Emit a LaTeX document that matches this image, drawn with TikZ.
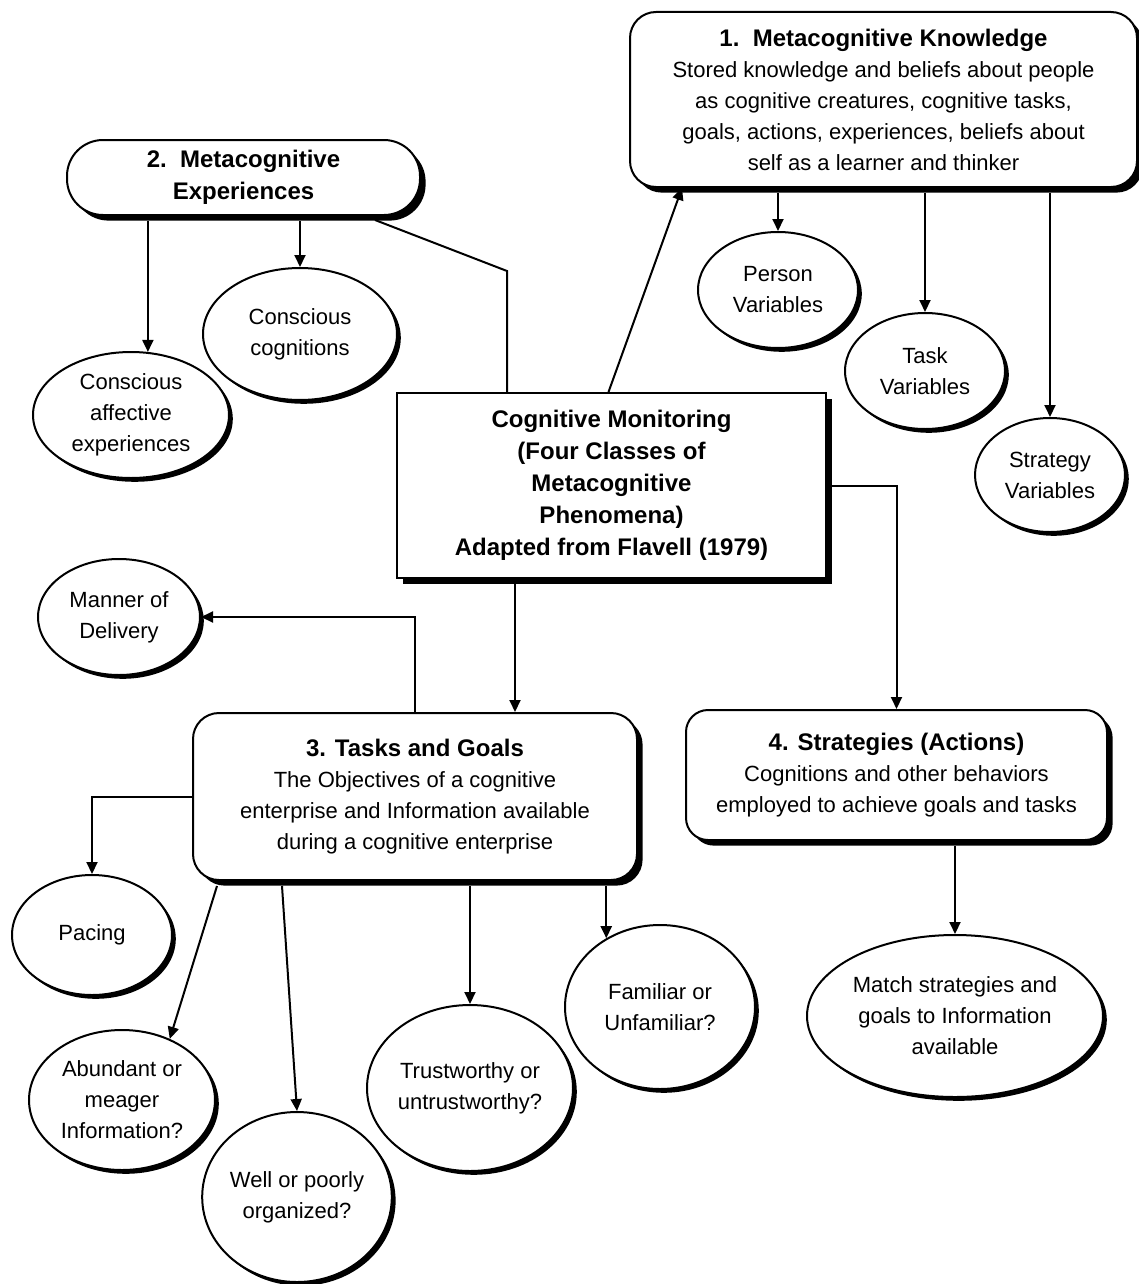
\documentclass[tikz,border=0pt]{standalone}
\usepackage{fontspec}
\setmainfont{Liberation Sans}
\usetikzlibrary{shapes.geometric,shadows,arrows.meta,calc}
\begin{document}
\begin{tikzpicture}[x=0.5pt,y=-0.5pt,
  every node/.style={font=\fontsize{11}{15.5}\selectfont, align=center, inner sep=0pt},
  ttl/.style={font=\fontsize{12}{16}\selectfont\bfseries},
  boxsh/.style={drop shadow={shadow xshift=2.8pt, shadow yshift=-2.8pt, fill=black, opacity=1}},
  sqbox/.style={draw, line width=1pt, fill=white, boxsh},
  rbox/.style={draw, line width=1pt, fill=white, rounded corners=13pt, boxsh},
  ell/.style={ellipse, draw, line width=1pt, fill=white,
    drop shadow={shadow xshift=1.9pt, shadow yshift=-1.9pt, fill=black, opacity=1}},
  arr/.style={line width=1pt, -{Triangle[length=6pt,width=5.5pt]}},
  ln/.style={line width=1pt}
]
\useasboundingbox (0,0) rectangle (1139,1284);
\fill[white] (0,0) rectangle (1139,1284);

% main boxes
\node[rbox, minimum width=253.5pt, minimum height=87.5pt] (k) at (883.5,99.5)
  {{\fontsize{12}{16}\selectfont\bfseries 1.\ \ Metacognitive Knowledge}\\
   Stored knowledge and beliefs about people\\
   as cognitive creatures, cognitive tasks,\\
   goals, actions, experiences, beliefs about\\
   self as a learner and thinker};
\node[rbox, rounded corners=18pt, minimum width=176.5pt, minimum height=37.5pt, ttl] (e) at (243.5,177.5)
  {2.\ \ Metacognitive\\Experiences};
\node[sqbox, minimum width=214.5pt, minimum height=92.5pt, ttl] (c) at (611.5,485.5)
  {Cognitive Monitoring\\(Four Classes of\\Metacognitive\\Phenomena)\\Adapted from Flavell (1979)};
\node[rbox, minimum width=222pt, minimum height=83.5pt] (t) at (415,796.5)
  {{\fontsize{12}{16}\selectfont\bfseries 3. Tasks and Goals}\\
   The Objectives of a cognitive\\
   enterprise and Information available\\
   during a cognitive enterprise};
\node[rbox, rounded corners=11pt, minimum width=210.5pt, minimum height=65pt] (s) at (896.5,775)
  {{\fontsize{12}{16}\selectfont\bfseries 4. Strategies (Actions)}\\
   Cognitions and other behaviors\\
   employed to achieve goals and tasks};

% ellipses
\node[ell, minimum width=80pt, minimum height=58pt] (pv) at (778,290) {Person\\Variables};
\node[ell, minimum width=80pt, minimum height=58pt] (tv) at (925,371) {Task\\Variables};
\node[ell, minimum width=75pt, minimum height=57pt] (sv) at (1050,475) {Strategy\\Variables};
\node[ell, minimum width=97pt, minimum height=66pt] (cc) at (300,334) {Conscious\\cognitions};
\node[ell, minimum width=98pt, minimum height=63pt] (ca) at (131,415) {Conscious\\affective\\experiences};
\node[ell, minimum width=81pt, minimum height=58pt] (md) at (119,617) {Manner of\\Delivery};
\node[ell, minimum width=80pt, minimum height=60pt] (pa) at (92,935) {Pacing};
\node[ell, minimum width=93pt, minimum height=70pt] (am) at (122,1100) {Abundant or\\meager\\Information?};
\node[ell, minimum width=92pt, minimum height=85pt] (wp) at (297,1197) {Well or poorly\\organized?};
\node[ell, minimum width=103pt, minimum height=83pt] (tu) at (470,1088) {Trustworthy or\\untrustworthy?};
\node[ell, minimum width=95pt, minimum height=82pt] (fu) at (660,1007) {Familiar or\\Unfamiliar?};
\node[ell, minimum width=148pt, minimum height=81pt] (ms) at (955,1016) {Match strategies and\\goals to Information\\available};

% connectors
\draw[arr] ([xshift=-1.5pt]c.north) -- ([xshift=26.5pt]k.south west);
\draw[ln] ([xshift=-23pt,yshift=-2pt]e.south east) -- ([xshift=55.5pt,yshift=60.5pt]c.north west) -- ([xshift=55.5pt]c.north west);
\draw[arr] ([yshift=-2.5pt]k.south -| pv.north) -- (pv.north);
\draw[arr] ([yshift=-2.5pt]k.south -| tv.north) -- (tv.north);
\draw[arr] ([yshift=-2.5pt]k.south -| sv.north) -- (sv.north);
\draw[arr] ([yshift=-2.5pt]e.south -| ca.75) -- (ca.75);
\draw[arr] ([yshift=-2.5pt]e.south -| cc.north) -- (cc.north);
\draw[arr] (c.east) -| (s.north);
\draw[arr] ([xshift=-48.25pt,yshift=-2.5pt]c.south) -- ([xshift=-48.25pt]c.south |- t.north);
\draw[arr] (t.north) |- (md.east);
\draw[arr] (t.west) -| (pa.north);
\draw[arr] ([xshift=12.5pt,yshift=-2.5pt]t.south west) -- (am.52);
\draw[arr] ([xshift=45pt,yshift=-2.5pt]t.south west) -- (wp.north);
\draw[arr] ([yshift=-2.5pt]t.south -| tu.north) -- (tu.north);
\draw[arr] ([yshift=-2.5pt]t.south -| fu.128) -- (fu.128);
\draw[arr] ([yshift=-2.5pt]s.south -| ms.north) -- (ms.north);
\end{tikzpicture}
\end{document}
